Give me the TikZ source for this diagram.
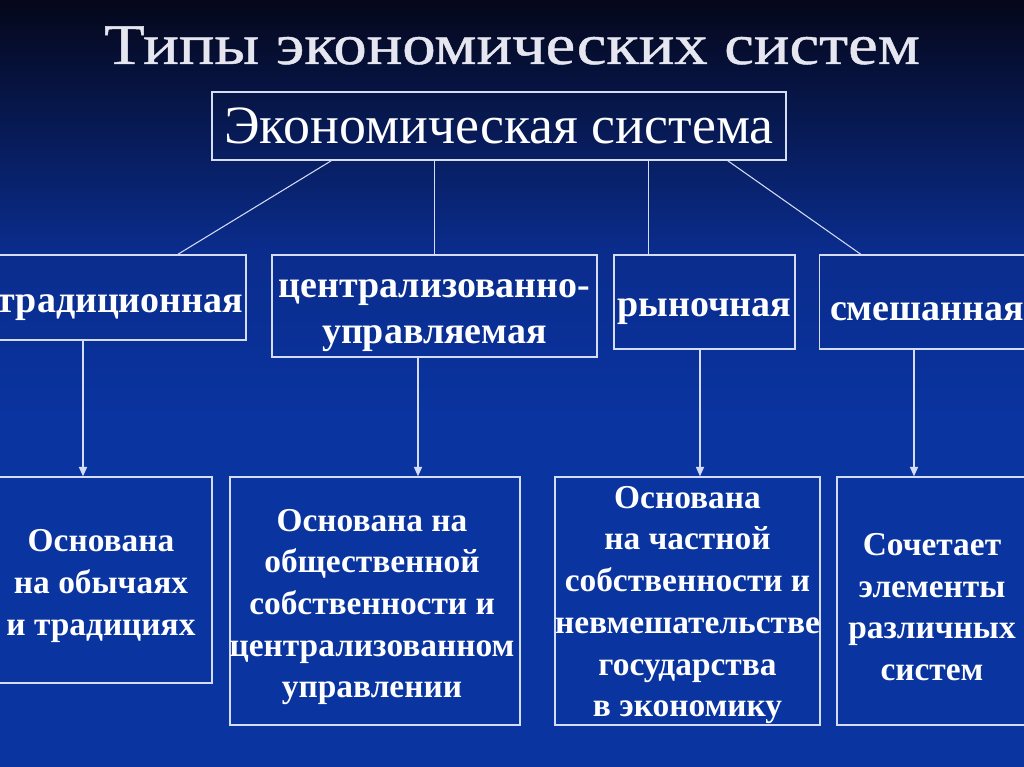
\documentclass[tikz,border=0pt]{standalone}
\usepackage{fontspec}
\setmainfont{Liberation Serif}
\newfontfamily\headfont[FakeStretch=1.16,FakeBold=0.8]{Liberation Serif}
\usetikzlibrary{calc,arrows.meta}
\definecolor{bgtop}{HTML}{05071A}
\definecolor{bgmid}{HTML}{0A2C8C}
\definecolor{bgbot}{HTML}{0A34A0}
\definecolor{framecol}{HTML}{D4DCF6}
\definecolor{titlecol}{HTML}{E6E6F0}
\tikzset{
  frame/.style={draw=framecol,line width=1.3pt,inner sep=0pt},
  words/.style={inner sep=0pt,text=white,align=center},
  kind/.style={words,font=\bfseries\fontsize{32.4}{39.3}\selectfont},
  note/.style={words,font=\bfseries\fontsize{28.5}{35.6}\selectfont},
  link/.style={draw=framecol,line width=0.9pt},
  arr/.style={link,-{Triangle[length=8pt,width=7pt]}}
}
\begin{document}
\begin{tikzpicture}[x=0.03cm,y=-0.03cm]
\useasboundingbox (0,0) rectangle (1024,767);
\fill[bgbot] (0,0) rectangle (1024,767);
\shade[top color=bgtop,bottom color=bgmid] (0,0) rectangle (1024,250);
\shade[top color=bgmid,bottom color=bgbot] (0,249) rectangle (1024,420);

\node[text=titlecol,font=\headfont\fontsize{49}{55}\selectfont,anchor=base] (head) at (512,64) {Типы экономических систем};

\node[frame,words,font=\fontsize{46}{52}\selectfont,minimum width=574*0.03cm,minimum height=68*0.03cm] (econ) at (499,126) {Экономическая система};

\node[frame,minimum width=258*0.03cm,minimum height=85*0.03cm] (trad) at (117,297.5) {};
\node[frame,minimum width=325*0.03cm,minimum height=102*0.03cm] (plan) at (434.5,306) {};
\node[frame,minimum width=181*0.03cm,minimum height=94*0.03cm] (market) at (704.5,302) {};
\node[frame,minimum width=215*0.03cm,minimum height=94*0.03cm] (mixed) at (927,302) {};
\node[kind] (tradtext) at ($(trad)+(3,10)$) {традиционная};
\node[kind] (plantext) at ($(plan)+(0,10)$) {централизованно-\\управляемая};
\node[kind] (markettext) at ($(market)+(0,10)$) {рыночная};
\node[kind] (mixedtext) at ($(mixed)+(0,10)$) {смешанная};

\node[frame,minimum width=224*0.03cm,minimum height=206*0.03cm] (tradnote) at (100,580) {};
\node[frame,minimum width=290*0.03cm,minimum height=248*0.03cm] (plannote) at (375,601) {};
\node[frame,minimum width=265*0.03cm,minimum height=248*0.03cm] (marketnote) at (687.5,601) {};
\node[frame,minimum width=198*0.03cm,minimum height=248*0.03cm] (mixednote) at (936,601) {};
\node[note] (tradnotetext) at ($(tradnote)+(1,6)$) {Основана\\на обычаях\\и традициях};
\node[note] (plannotetext) at ($(plannote)+(-3,6)$) {Основана на\\общественной\\собственности и\\централизованном\\управлении};
\node[note] (marketnotetext) at ($(marketnote)+(0,4)$) {Основана\\на частной\\собственности и\\невмешательстве\\государства\\в экономику};
\node[note] (mixednotetext) at ($(mixednote)+(-4,6)$) {Сочетает\\элементы\\различных\\систем};

\draw[link] ($(econ.south west)+(120,0)$) -- ($(trad.north)+(61,0)$);
\draw[link] (plan.north) -- (plan.north |- econ.south);
\draw[link] ($(market.north west)+(35,0)$) coordinate (m0) -- (m0 |- econ.south);
\draw[link] ($(econ.south east)+(-59,0)$) -- ($(mixed.north west)+(42,0)$);

\draw[arr] ($(trad.south)+(-34,0)$) coordinate (a1) -- (a1 |- tradnote.north);
\draw[arr] ($(plan.south)+(-16.5,0)$) coordinate (a2) -- (a2 |- plannote.north);
\draw[arr] ($(market.south)+(-4.5,0)$) coordinate (a3) -- (a3 |- marketnote.north);
\draw[arr] ($(mixed.south)+(-13,0)$) coordinate (a4) -- (a4 |- mixednote.north);
\end{tikzpicture}
\end{document}
